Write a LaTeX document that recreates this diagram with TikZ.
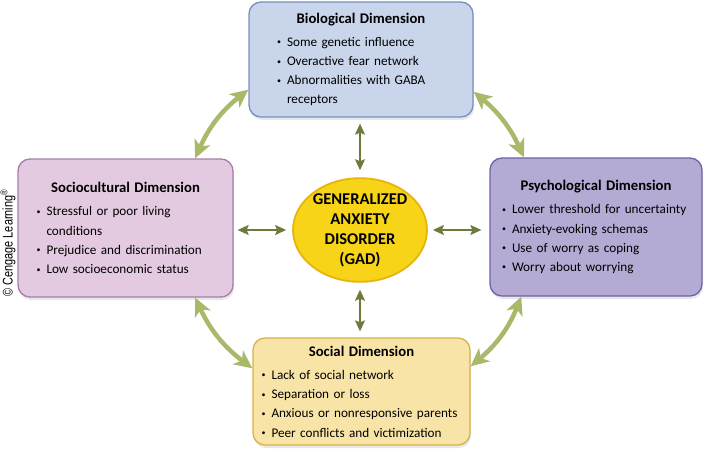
\documentclass[tikz,border=0pt]{standalone}
\usepackage{fontspec}
\setmainfont{Carlito}
\newfontfamily\creditfont[FakeStretch=0.78]{Liberation Sans}
\usetikzlibrary{shapes.geometric,arrows.meta,shadows}

\definecolor{bioFill}{HTML}{C8D5EA}
\definecolor{bioLine}{HTML}{7391BE}
\definecolor{socioFill}{HTML}{E4CAE0}
\definecolor{socioLine}{HTML}{A87DA8}
\definecolor{psychFill}{HTML}{B4AAD4}
\definecolor{psychLine}{HTML}{6E62A6}
\definecolor{socialFill}{HTML}{F9E4A8}
\definecolor{socialLine}{HTML}{D8B24A}
\definecolor{gadFill}{HTML}{F7D417}
\definecolor{gadLine}{HTML}{E6B40C}
\definecolor{darkOlive}{HTML}{6B7B3C}
\definecolor{lightOlive}{HTML}{A9B96A}

\newcommand{\bul}[1]{\par\noindent\hangindent=10pt\hangafter=1\makebox[10pt][l]{\raisebox{1.5pt}{\fontsize{8}{8}\selectfont\textbullet}}#1\par}
\newcommand{\boxtitle}[1]{{\centering\fontsize{14.7}{18}\selectfont\bfseries #1\par}\vspace{4pt}}

\begin{document}
\begin{tikzpicture}[x=1pt, y=-1pt,
    dimbox/.style={draw, line width=1.3pt, rounded corners=12pt, inner xsep=0pt, inner ysep=6pt,
                   align=left, font=\fontsize{13.2}{19.2}\selectfont,
                   drop shadow={opacity=0.18, shadow xshift=1pt, shadow yshift=-3pt}},
    linkarrow/.style={draw=darkOlive, line width=1.4pt,
                      {Stealth[length=11pt,width=10pt,inset=2pt]}-{Stealth[length=11pt,width=10pt,inset=2pt]}},
    ringarrow/.style={draw=lightOlive, line width=4.5pt,
                      {Stealth[length=18pt,width=17pt,inset=5pt]}-{Stealth[length=18pt,width=17pt,inset=5pt]}}]

    \useasboundingbox (0,0) rectangle (708,465);

    % the four dimensions
    \node[dimbox, fill=bioFill, draw=bioLine, minimum width=224, minimum height=115, text width=168]
        (bio) at (361,59.5) {\boxtitle{Biological Dimension}
        \bul{Some genetic influence}
        \bul{Overactive fear network}
        \bul{Abnormalities with GABA\newline receptors}};

    \node[dimbox, fill=socioFill, draw=socioLine, minimum width=215, minimum height=138, text width=178]
        (socio) at (125.5,228) {\boxtitle{Sociocultural Dimension}
        \bul{Stressful or poor living\newline conditions}
        \bul{Prejudice and discrimination}
        \bul{Low socioeconomic status}};

    \node[dimbox, fill=psychFill, draw=psychLine, minimum width=212, minimum height=138, text width=188]
        (psych) at (596,227) {\boxtitle{Psychological Dimension}
        \bul{Lower threshold for uncertainty}
        \bul{Anxiety-evoking schemas}
        \bul{Use of worry as coping}
        \bul{Worry about worrying}};

    \node[dimbox, fill=socialFill, draw=socialLine, minimum width=217, minimum height=107, text width=200]
        (social) at (361.5,391.5) {\boxtitle{Social Dimension}
        \bul{Lack of social network}
        \bul{Separation or loss}
        \bul{Anxious or nonresponsive parents}
        \bul{Peer conflicts and victimization}};

    % the disorder in the middle
    \node[ellipse, draw=gadLine, line width=1.8pt, fill=gadFill, minimum width=134, minimum height=96,
          inner sep=0pt, align=center, font=\fontsize{16.5}{20}\selectfont\bfseries]
        (gad) at (360,230) {GENERALIZED\\ANXIETY\\DISORDER\\(GAD)};

    % links to the centre
    \draw[linkarrow, shorten <=7pt, shorten >=6pt] (gad.north) -- (gad.north |- bio.south);
    \draw[linkarrow, shorten <=6pt, shorten >=4pt] (gad.west) -- (gad.west -| socio.east);
    \draw[linkarrow, shorten <=5pt, shorten >=8pt] (gad.east) -- (gad.east -| psych.west);
    \draw[linkarrow, shorten <=7pt, shorten >=6pt] (gad.south) -- (gad.south |- social.north);

    % the ring between the dimensions
    \draw[ringarrow] (bio.195) to[bend right=14] (socio.45);
    \draw[ringarrow] (bio.344) to[bend left=13] (psych.136);
    \draw[ringarrow] (socio.-45) to[bend right=14] (social.168);
    \draw[ringarrow] (psych.223) to[bend left=14] (social.13);

    \node[rotate=90, font=\creditfont\fontsize{14}{15}\selectfont] (credit) at (8,243)
        {\textcopyright{} Cengage Learning\textsuperscript{\textregistered}};

\end{tikzpicture}
\end{document}
